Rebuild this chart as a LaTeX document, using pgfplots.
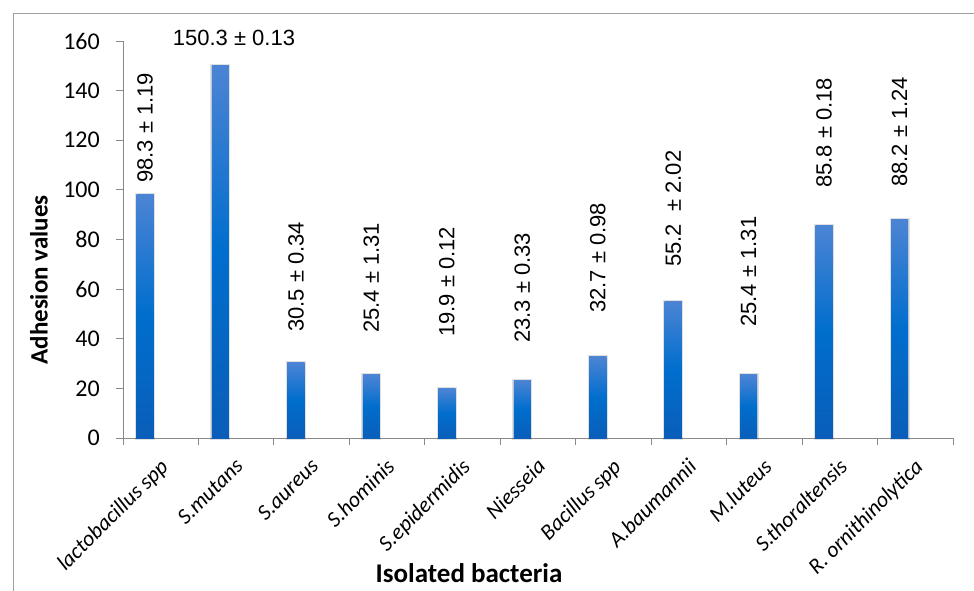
\documentclass[border=0pt]{standalone}
\usepackage{pgfplots}
\pgfplotsset{compat=1.18}
\usepackage{fontspec}
\setmainfont{Carlito}
\newfontfamily\arial{Liberation Sans}
\definecolor{axisgray}{RGB}{137,137,137}
\definecolor{framegray}{RGB}{160,160,160}
\definecolor{barTop}{RGB}{76,132,212}
\definecolor{barMid}{RGB}{0,110,205}
\definecolor{barBot}{RGB}{10,94,185}
\begin{document}
\begin{tikzpicture}
\useasboundingbox (0,0) rectangle (974pt,-591pt);
\clip (0,0) rectangle (974pt,-591pt);
\draw[framegray, line width=0.9pt] (13pt,-13pt) rectangle (995pt,-620pt);
\begin{axis}[
  at={(123pt,-438pt)}, anchor=south west,
  scale only axis, width=830pt, height=397pt,
  xmin=-0.5, xmax=10.5, ymin=0, ymax=160,
  axis x line*=bottom, axis y line*=left,
  axis line style={draw=axisgray, line width=1pt},
  tick style={draw=axisgray, line width=1pt},
  tick align=outside, major tick length=7pt,
  xtick={-0.5,0.5,...,10.5}, xticklabels={},
  extra x ticks={0,1,2,3,4,5,6,7,8,9,10},
  extra x tick labels={lactobacillus spp, S.mutans, S.aureus, S.hominis, S.epidermidis, Niesseia, Bacillus spp, A.baumannii, M.luteus, S.thoraltensis, R. ornithinolytica},
  extra x tick style={major tick length=0pt, tick style={draw=none},
    tick label style={xshift=-2pt, yshift=-19pt, rotate=45, anchor=north east, inner sep=0pt, font=\itshape\fontsize{22}{22}\selectfont}},
  ytick={0,20,...,160},
  yticklabel style={font=\fontsize{24}{24}\selectfont, inner sep=0pt, xshift=-16pt},
  /pgf/number format/assume math mode=true,
  clip=false,
]
\pgfplotsset{bstyle/.style={ybar, bar width=17pt, bar shift=-15.7pt, draw=none,
  preaction={draw=black, draw opacity=0.12, line width=3pt},
  top color=barTop, bottom color=barBot, middle color=barMid}}
\addplot[bstyle] coordinates {(0,98.3)};
\addplot[bstyle] coordinates {(1,150.3)};
\addplot[bstyle] coordinates {(2,30.5)};
\addplot[bstyle] coordinates {(3,25.4)};
\addplot[bstyle] coordinates {(4,19.9)};
\addplot[bstyle] coordinates {(5,23.3)};
\addplot[bstyle] coordinates {(6,32.7)};
\addplot[bstyle] coordinates {(7,55.2)};
\addplot[bstyle] coordinates {(8,25.4)};
\addplot[bstyle] coordinates {(9,85.8)};
\addplot[bstyle] coordinates {(10,88.2)};
\tikzset{vl/.style={xshift=-15.7pt, rotate=90, anchor=west, inner sep=0pt, font=\arial\fontsize{22}{22}\selectfont}}
\node[vl] at (axis cs:0,102.8) {98.3 ± 1.19};
\node[anchor=center, inner sep=0pt, font=\arial\fontsize{22}{22}\selectfont] at (axis cs:0.971,161.2) {150.3 ± 0.13};
\node[vl] at (axis cs:2,42.7) {30.5 ± 0.34};
\node[vl] at (axis cs:3,42.3) {25.4 ± 1.31};
\node[vl] at (axis cs:4,40.7) {19.9 ± 0.12};
\node[vl] at (axis cs:5,38.3) {23.3 ± 0.33};
\node[vl] at (axis cs:6,50.4) {32.7 ± 0.98};
\node[vl] at (axis cs:7,69.0) {55.2\ \ ± 2.02};
\node[vl] at (axis cs:8,44.8) {25.4 ± 1.31};
\node[vl] at (axis cs:9,100.8) {85.8 ± 0.18};
\node[vl] at (axis cs:10,101.2) {88.2 ± 1.24};
\end{axis}
\node[rotate=90, font=\bfseries\fontsize{25}{25}\selectfont] at (39pt,-280pt) {Adhesion values};
\node[font=\bfseries\fontsize{27}{27}\selectfont] at (469pt,-573pt) {Isolated bacteria};
\end{tikzpicture}
\end{document}
